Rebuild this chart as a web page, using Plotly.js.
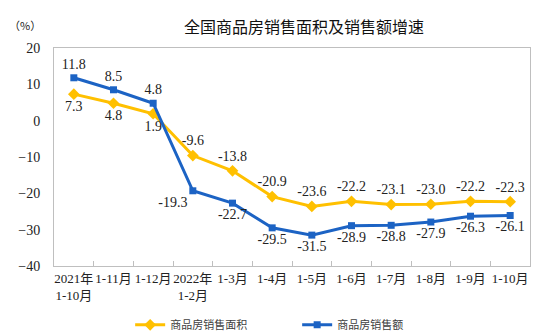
<!DOCTYPE html>
<html><head><meta charset="utf-8">
<script src="https://cdn.plot.ly/plotly-3.0.1.min.js"></script>
<style>body{margin:0;background:#fff}#c{width:556px;height:335px}</style>
</head><body><div id="c"></div>
<script>
const categories = ["2021年<br>1-10月","1-11月","1-12月","2022年<br>1-2月","1-3月","1-4月","1-5月","1-6月","1-7月","1-8月","1-9月","1-10月"];
const areaGrowth = [7.3,4.8,1.9,-9.6,-13.8,-20.9,-23.6,-22.2,-23.1,-23.0,-22.2,-22.3];
const salesGrowth = [11.8,8.5,4.8,-19.3,-22.7,-29.5,-31.5,-28.9,-28.8,-27.9,-26.3,-26.1];
const seriesNames = ["商品房销售面积","商品房销售额"];
const yTicks = [20,10,0,-10,-20,-30,-40];

const serif = "Times New Roman, Liberation Serif, Noto Sans CJK SC, serif";
const labelFont = {family: serif, size: 14, color: "#222"};
const fmt = v => v.toFixed(1);

const areaPos = ["bottom center","bottom center","bottom center","top center","top center","top center","top center","top center","top center","top center","top center","top center"];
const salesPos = ["top center","top center","top center","bottom left","bottom center","bottom center","bottom center","bottom center","bottom center","bottom center","bottom center","bottom center"];

const traces = [
  {x: categories, y: areaGrowth, name: seriesNames[0], type: "scatter", mode: "lines+markers+text",
   line: {color: "#FFC000", width: 3}, marker: {symbol: "diamond", size: 9, color: "#FFC000"},
   text: areaGrowth.map(fmt), textposition: areaPos, textfont: labelFont, cliponaxis: false},
  {x: categories, y: salesGrowth, name: seriesNames[1], type: "scatter", mode: "lines+markers+text",
   line: {color: "#1C63C4", width: 3}, marker: {symbol: "square", size: 7, color: "#1C63C4"},
   text: salesGrowth.map(fmt), textposition: salesPos, textfont: labelFont, cliponaxis: false}
];

const layout = {
  width: 556, height: 335,
  margin: {l: 54, r: 26, t: 48, b: 69, autoexpand: false},
  paper_bgcolor: "#fff", plot_bgcolor: "#fff",
  title: {text: "全国商品房销售面积及销售额增速", x: 0.547, xref: "container", y: 0.935, yref: "container",
          font: {family: "Noto Sans CJK SC", size: 16, color: "#111"}},
  showlegend: true,
  legend: {orientation: "h", x: 0.16, xanchor: "left", y: -0.27, yanchor: "middle",
           font: {family: "Noto Sans CJK SC", size: 11, color: "#404040"},
           entrywidth: 122, entrywidthmode: "pixels", itemwidth: 30},
  xaxis: {type: "category", range: [-0.5, 11.5], autorange: false, showline: true, mirror: true, linecolor: "#BFBFBF", linewidth: 1,
          ticks: "inside", tickson: "boundaries", ticklen: 5, tickcolor: "#BFBFBF",
          showgrid: false, tickfont: {family: serif, size: 13, color: "#222"}, tickangle: 0},
  yaxis: {range: [-40, 20], autorange: false, tickvals: yTicks, showline: true, mirror: true, linecolor: "#BFBFBF", linewidth: 1,
          ticks: "", showgrid: false, zeroline: false, ticklabelstandoff: 10,
          tickfont: {family: serif, size: 14, color: "#222"}},
  annotations: [{text: "（%）", xref: "paper", yref: "paper", x: -0.06, y: 1.06, xanchor: "center", yanchor: "bottom",
                 showarrow: false, font: {family: "Noto Sans CJK SC", size: 11, color: "#222"}}]
};

Plotly.newPlot("c", traces, layout, {displayModeBar: false, staticPlot: true});
</script></body></html>
